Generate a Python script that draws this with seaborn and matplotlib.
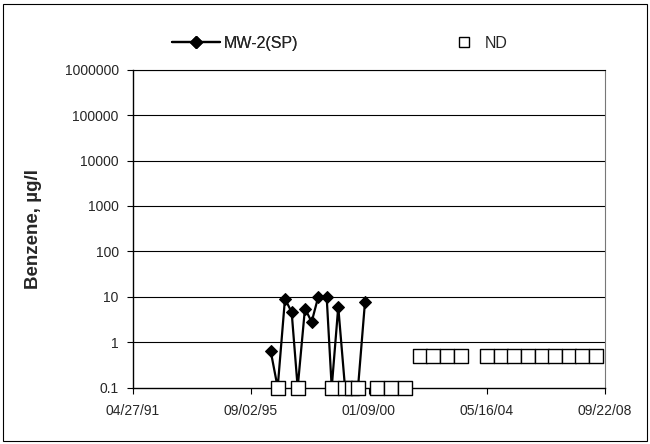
import pandas as pd
import numpy as np
import matplotlib
matplotlib.use('Agg')
import matplotlib.pyplot as plt
import matplotlib.dates as mdates
import seaborn as sns
from matplotlib.lines import Line2D
from matplotlib.patches import Rectangle

# MW-2 results (ND samples plotted at 0.1)
mw2_dates = ['1996-05-27', '1996-08-30', '1996-12-06', '1997-03-06', '1997-05-26',
             '1997-09-01', '1997-11-30', '1998-02-27', '1998-06-20', '1998-08-27',
             '1998-11-23', '1999-02-22', '1999-05-27', '1999-08-16', '1999-11-18']
mw2_values = [0.65, 0.1, 9.0, 4.6, 0.1,
              5.5, 2.8, 10, 10, 0.1,
              6.0, 0.1, 0.1, 0.1, 7.8]

# non-detects
nd_dates = ['1996-08-30', '1997-05-26', '1998-08-27', '1999-02-22', '1999-05-27',
            '1999-08-16', '2000-04-27', '2000-11-02', '2001-05-09',
            '2001-11-27', '2002-05-27', '2002-11-27', '2003-05-27',
            '2004-05-21', '2004-11-21', '2005-05-21', '2005-11-21', '2006-05-21',
            '2006-11-21', '2007-05-21', '2007-11-21', '2008-05-21']
nd_values = [0.1, 0.1, 0.1, 0.1, 0.1,
             0.1, 0.1, 0.1, 0.1,
             0.5, 0.5, 0.5, 0.5,
             0.5, 0.5, 0.5, 0.5, 0.5,
             0.5, 0.5, 0.5, 0.5]

x_ticks = ['1991-04-27', '1995-09-02', '2000-01-09', '2004-05-16', '2008-09-22']
y_ticks = [0.1, 1, 10, 100, 1000, 10000, 100000, 1000000]
y_labels = ['0.1', '1', '10', '100', '1000', '10000', '100000', '1000000']

mw2 = pd.DataFrame({'Date': pd.to_datetime(mw2_dates), 'Benzene': mw2_values})
nd = pd.DataFrame({'Date': pd.to_datetime(nd_dates), 'Benzene': nd_values})

sns.set_style('white')
plt.rcParams['font.family'] = ['Liberation Sans', 'DejaVu Sans']

fig = plt.figure(figsize=(6.5, 4.44), dpi=100)
ax = fig.add_axes([0.204, 0.127, 0.727, 0.716])

# gridlines
for v in y_ticks[1:]:
    ax.axhline(v, color='black', lw=0.8, zorder=0)

sns.lineplot(data=mw2, x='Date', y='Benzene', ax=ax, color='black', lw=1.6,
             marker='D', markersize=6.5, markeredgecolor='black', zorder=3)
sns.scatterplot(data=nd, x='Date', y='Benzene', ax=ax, marker='s', s=90,
                facecolor='white', edgecolor='black', linewidth=1.0, zorder=4,
                clip_on=False)

ax.set_yscale('log')
ax.set_ylim(0.1, 1000000)
ax.set_yticks(y_ticks)
ax.set_yticklabels(y_labels)
ax.yaxis.set_minor_locator(matplotlib.ticker.NullLocator())

ax.set_xlim(pd.Timestamp(x_ticks[0]), pd.Timestamp(x_ticks[-1]))
ax.set_xticks(pd.to_datetime(x_ticks))
ax.xaxis.set_major_formatter(mdates.DateFormatter('%m/%d/%y'))

ax.tick_params(axis='both', labelsize=10, length=4, width=0.8, color='black',
               direction='out', pad=6, bottom=True, left=True)
ax.tick_params(axis='x', pad=8)
ax.set_xlabel('')
ax.set_ylabel('Benzene, µg/l', fontsize=13.5, fontweight='bold', labelpad=16)

for side in ['left', 'bottom']:
    ax.spines[side].set_color('black')
    ax.spines[side].set_linewidth(1.0)
ax.spines['top'].set_color('black')
ax.spines['top'].set_linewidth(0.8)
ax.spines['right'].set_color('#777777')
ax.spines['right'].set_linestyle((0, (1, 1)))
ax.spines['right'].set_linewidth(0.8)

# legend, two pieces so the spacing matches
h_mw2 = Line2D([], [], color='black', lw=1.6, marker='D', markersize=6.5)
h_nd = Line2D([], [], color='none', marker='s', markersize=7,
              markerfacecolor='white', markeredgecolor='black')
leg1 = fig.legend([h_mw2], ['MW-2(SP)'], loc='center left', frameon=False,
                  bbox_to_anchor=(0.243, 0.903), fontsize=11.5, handlelength=3.0,
                  handletextpad=0.25)
fig.legend([h_nd], ['ND'], loc='center left', frameon=False,
           bbox_to_anchor=(0.68, 0.903), fontsize=11.5, handlelength=1.0,
           handletextpad=0.8)
fig.add_artist(leg1)

fig.add_artist(Rectangle((0.004, 0.006), 0.992, 0.985, transform=fig.transFigure,
                         fill=False, edgecolor='black', lw=0.8))

fig.savefig('out.png', dpi=100)
